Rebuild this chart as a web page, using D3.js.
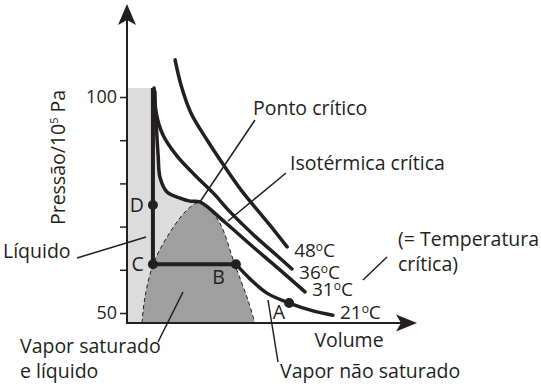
<!DOCTYPE html>
<html>
<head>
<meta charset="utf-8">
<script src="https://cdn.jsdelivr.net/npm/d3@7"></script>
<style>
  body { margin: 0; background: #fff; }
  svg text { font-family: "Open Sans", sans-serif; fill: #231f20; }
</style>
</head>
<body>
<div id="chart"></div>
<script>
const width = 541, height = 389;

// isotherms, [volume (arb. units), pressure (10^5 Pa)]
const isoTemps = [48, 36, 31, 21];
const iso21Liquid = [[9.0, 102.1], [9.0, 61.3], [37.8, 61.3]];
const iso21Vapor = [[37.8, 61.3], [42.7, 57.9], [48.6, 54.6], [56.3, 52.3], [64.6, 50.5], [71.5, 49.5]];
const iso31 = [[9.4, 102.1], [10.1, 94.2], [10.8, 86.6], [11.5, 81.3], [13.9, 78.0], [18.4, 76.6], [21.9, 75.9], [25.3, 75.7],
               [34.0, 71.0], [43.4, 65.5], [52.4, 60.4], [61.8, 54.9]];
const iso36 = [[9.7, 101.2], [10.1, 96.5], [12.5, 91.2], [17.4, 86.3], [23.6, 81.9], [29.9, 77.8],
               [35.8, 73.4], [44.4, 67.8], [50.7, 64.1], [57.3, 60.2]];
const iso48 = [[16.7, 108.6], [18.75, 102.8], [22.2, 96.3], [27.8, 90.05], [34.0, 83.8], [39.9, 78.2],
               [45.8, 73.4], [51.0, 69.2], [55.6, 65.3]];
const criticalIndex = 7; // iso31[7] = ponto crítico

// saturation dome
const dome = [[5.2, 47.7], [6.25, 53.7], [9.0, 61.1], [13.9, 67.6], [20.8, 73.8], [25.0, 75.5],
              [31.6, 71.5], [37.5, 61.1], [42.0, 53.0], [44.4, 47.7]];

// states on the 21 °C isotherm
const stateNames = ["D", "C", "B", "A"];
const statePoints = [[9.0, 75.0], [9.0, 61.3], [37.8, 61.3], [56.3, 52.3]];

const pTicks = [50, 60, 70, 80, 90, 100];
const pTickLabels = ["50", "", "", "", "", "100"];
const pMin = 47.7, pAxisEnd = 121.5, vAxisEnd = 100.7;

const svg = d3.select("#chart").append("svg")
    .attr("width", width)
    .attr("height", height);

const x = d3.scaleLinear().domain([0, 100]).range([127, 415]);
const y = d3.scaleLinear().domain([50, 100]).range([313, 97]);

const curve = d3.curveCatmullRom.alpha(0.5);
const line = d3.line().x(d => x(d[0])).y(d => y(d[1])).curve(curve);
const ink = "#231f20";

// liquid region (light grey)
svg.append("rect")
    .attr("x", x(0)).attr("y", y(iso21Liquid[0][1]))
    .attr("width", x(iso21Liquid[0][0]) - x(0))
    .attr("height", y(pMin) - y(iso21Liquid[0][1]))
    .attr("fill", "#dcdcdc");
svg.append("path")
    .attr("d", d3.area().x(d => x(d[0])).y0(y(pMin)).y1(d => y(d[1])).curve(curve)(iso31.slice(0, criticalIndex + 1)))
    .attr("fill", "#dcdcdc");

// dome
svg.append("path")
    .attr("d", line(dome) + "Z")
    .attr("fill", "#9f9f9f");
svg.append("path")
    .attr("d", line(dome))
    .attr("fill", "none")
    .attr("stroke", ink)
    .attr("stroke-width", 1)
    .attr("stroke-dasharray", "4,3");

// axes
const yAxis = svg.append("g")
    .attr("transform", `translate(${x(0)},0)`)
    .call(d3.axisLeft(y).tickValues(pTicks).tickFormat((d, i) => pTickLabels[i]).tickSize(7).tickPadding(3));
yAxis.select(".domain").remove();
yAxis.selectAll("line").attr("stroke", ink).attr("stroke-width", 1.5);
yAxis.selectAll("text").style("font-family", "'Open Sans', sans-serif").style("font-size", "18px").attr("fill", ink);

svg.append("line")
    .attr("x1", x(0)).attr("y1", y(pMin)).attr("x2", x(0)).attr("y2", y(pAxisEnd) + 12)
    .attr("stroke", ink).attr("stroke-width", 2);
svg.append("line")
    .attr("x1", x(0) - 1).attr("y1", y(pMin)).attr("x2", x(vAxisEnd) - 12).attr("y2", y(pMin))
    .attr("stroke", ink).attr("stroke-width", 2);

const tx = x(0), ty = y(pAxisEnd);
svg.append("path")
    .attr("d", `M${tx},${ty} L${tx + 9},${ty + 21} L${tx},${ty + 16} L${tx - 9},${ty + 21} Z`)
    .attr("fill", ink);
const rx = x(vAxisEnd), ry = y(pMin);
svg.append("path")
    .attr("d", `M${rx},${ry} L${rx - 21},${ry - 8.5} L${rx - 16},${ry} L${rx - 21},${ry + 8.5} Z`)
    .attr("fill", ink);

svg.append("text")
    .attr("transform", `translate(65,${y(86)}) rotate(-90)`)
    .attr("text-anchor", "middle")
    .style("font-size", "19.5px")
    .call(t => {
        t.append("tspan").text("Pressão/10");
        t.append("tspan").attr("dy", -7).style("font-size", "11px").text("5");
        t.append("tspan").attr("dy", 7).text(" Pa");
    });
svg.append("text")
    .attr("x", 349).attr("y", y(pMin) + 24)
    .attr("text-anchor", "middle")
    .style("font-size", "19.5px")
    .text("Volume");

// isotherms
const isoCurves = [iso48, iso36, iso31];
svg.selectAll("path.iso")
    .data(isoCurves)
    .enter().append("path")
    .attr("class", "iso")
    .attr("d", d => line(d))
    .attr("fill", "none")
    .attr("stroke", ink)
    .attr("stroke-width", 3.5)
    .attr("stroke-linecap", "round");
svg.append("path")
    .attr("d", d3.line().x(d => x(d[0])).y(d => y(d[1]))(iso21Liquid))
    .attr("fill", "none").attr("stroke", ink).attr("stroke-width", 4);
svg.append("path")
    .attr("d", line(iso21Vapor))
    .attr("fill", "none").attr("stroke", ink).attr("stroke-width", 3.5).attr("stroke-linecap", "round");

const isoEnds = [iso48, iso36, iso31, iso21Vapor].map(c => c[c.length - 1]);
svg.selectAll("text.temp")
    .data(isoTemps)
    .enter().append("text")
    .attr("class", "temp")
    .attr("x", (d, i) => x(isoEnds[i][0]) + 7)
    .attr("y", (d, i) => y(isoEnds[i][1]) + (i < 2 ? 10 : 4))
    .style("font-size", "19px")
    .each(function(d) {
        const t = d3.select(this);
        t.append("tspan").text(d);
        t.append("tspan").attr("dy", -6).style("font-size", "12px").text("o");
        t.append("tspan").attr("dy", 6).text("C");
    });

// states
svg.selectAll("circle.state")
    .data(statePoints)
    .enter().append("circle")
    .attr("cx", d => x(d[0])).attr("cy", d => y(d[1]))
    .attr("r", 5).attr("fill", ink);
const stateOffsets = [[-9, 7], [-9, 7], [-11, 20], [-4, 16]];
svg.selectAll("text.state")
    .data(stateNames)
    .enter().append("text")
    .attr("x", (d, i) => x(statePoints[i][0]) + stateOffsets[i][0])
    .attr("y", (d, i) => y(statePoints[i][1]) + stateOffsets[i][1])
    .attr("text-anchor", "end")
    .style("font-size", "19.5px")
    .text(d => d);

// annotations
const crit = iso31[criticalIndex];
const notes = [
    { lines: ["Ponto crítico"], tx: 253, ty: 115, from: [255, 120], to: [x(crit[0]), y(crit[1])] },
    { lines: ["Isotérmica crítica"], tx: 290, ty: 170, from: [286, 173], to: [228, 221] },
    { lines: ["(= Temperatura", "crítica)"], tx: 398, ty: 246, from: [387, 257], to: [363, 280] },
    { lines: ["Líquido"], tx: 3, ty: 258, from: [77, 258], to: [146, 237] },
    { lines: ["Vapor saturado", "e líquido"], tx: 20, ty: 353, from: [158, 342], to: [183, 292] },
    { lines: ["Vapor não saturado"], tx: 280, ty: 378, from: [278, 362], to: [268, 300] }
];
notes.forEach(n => {
    svg.append("line")
        .attr("x1", n.from[0]).attr("y1", n.from[1]).attr("x2", n.to[0]).attr("y2", n.to[1])
        .attr("stroke", ink).attr("stroke-width", 1.5);
    const t = svg.append("text").attr("x", n.tx).attr("y", n.ty).style("font-size", "19.5px");
    n.lines.forEach((s, i) => t.append("tspan").attr("x", n.tx).attr("dy", i ? 25 : 0).text(s));
});
</script>
</body>
</html>
